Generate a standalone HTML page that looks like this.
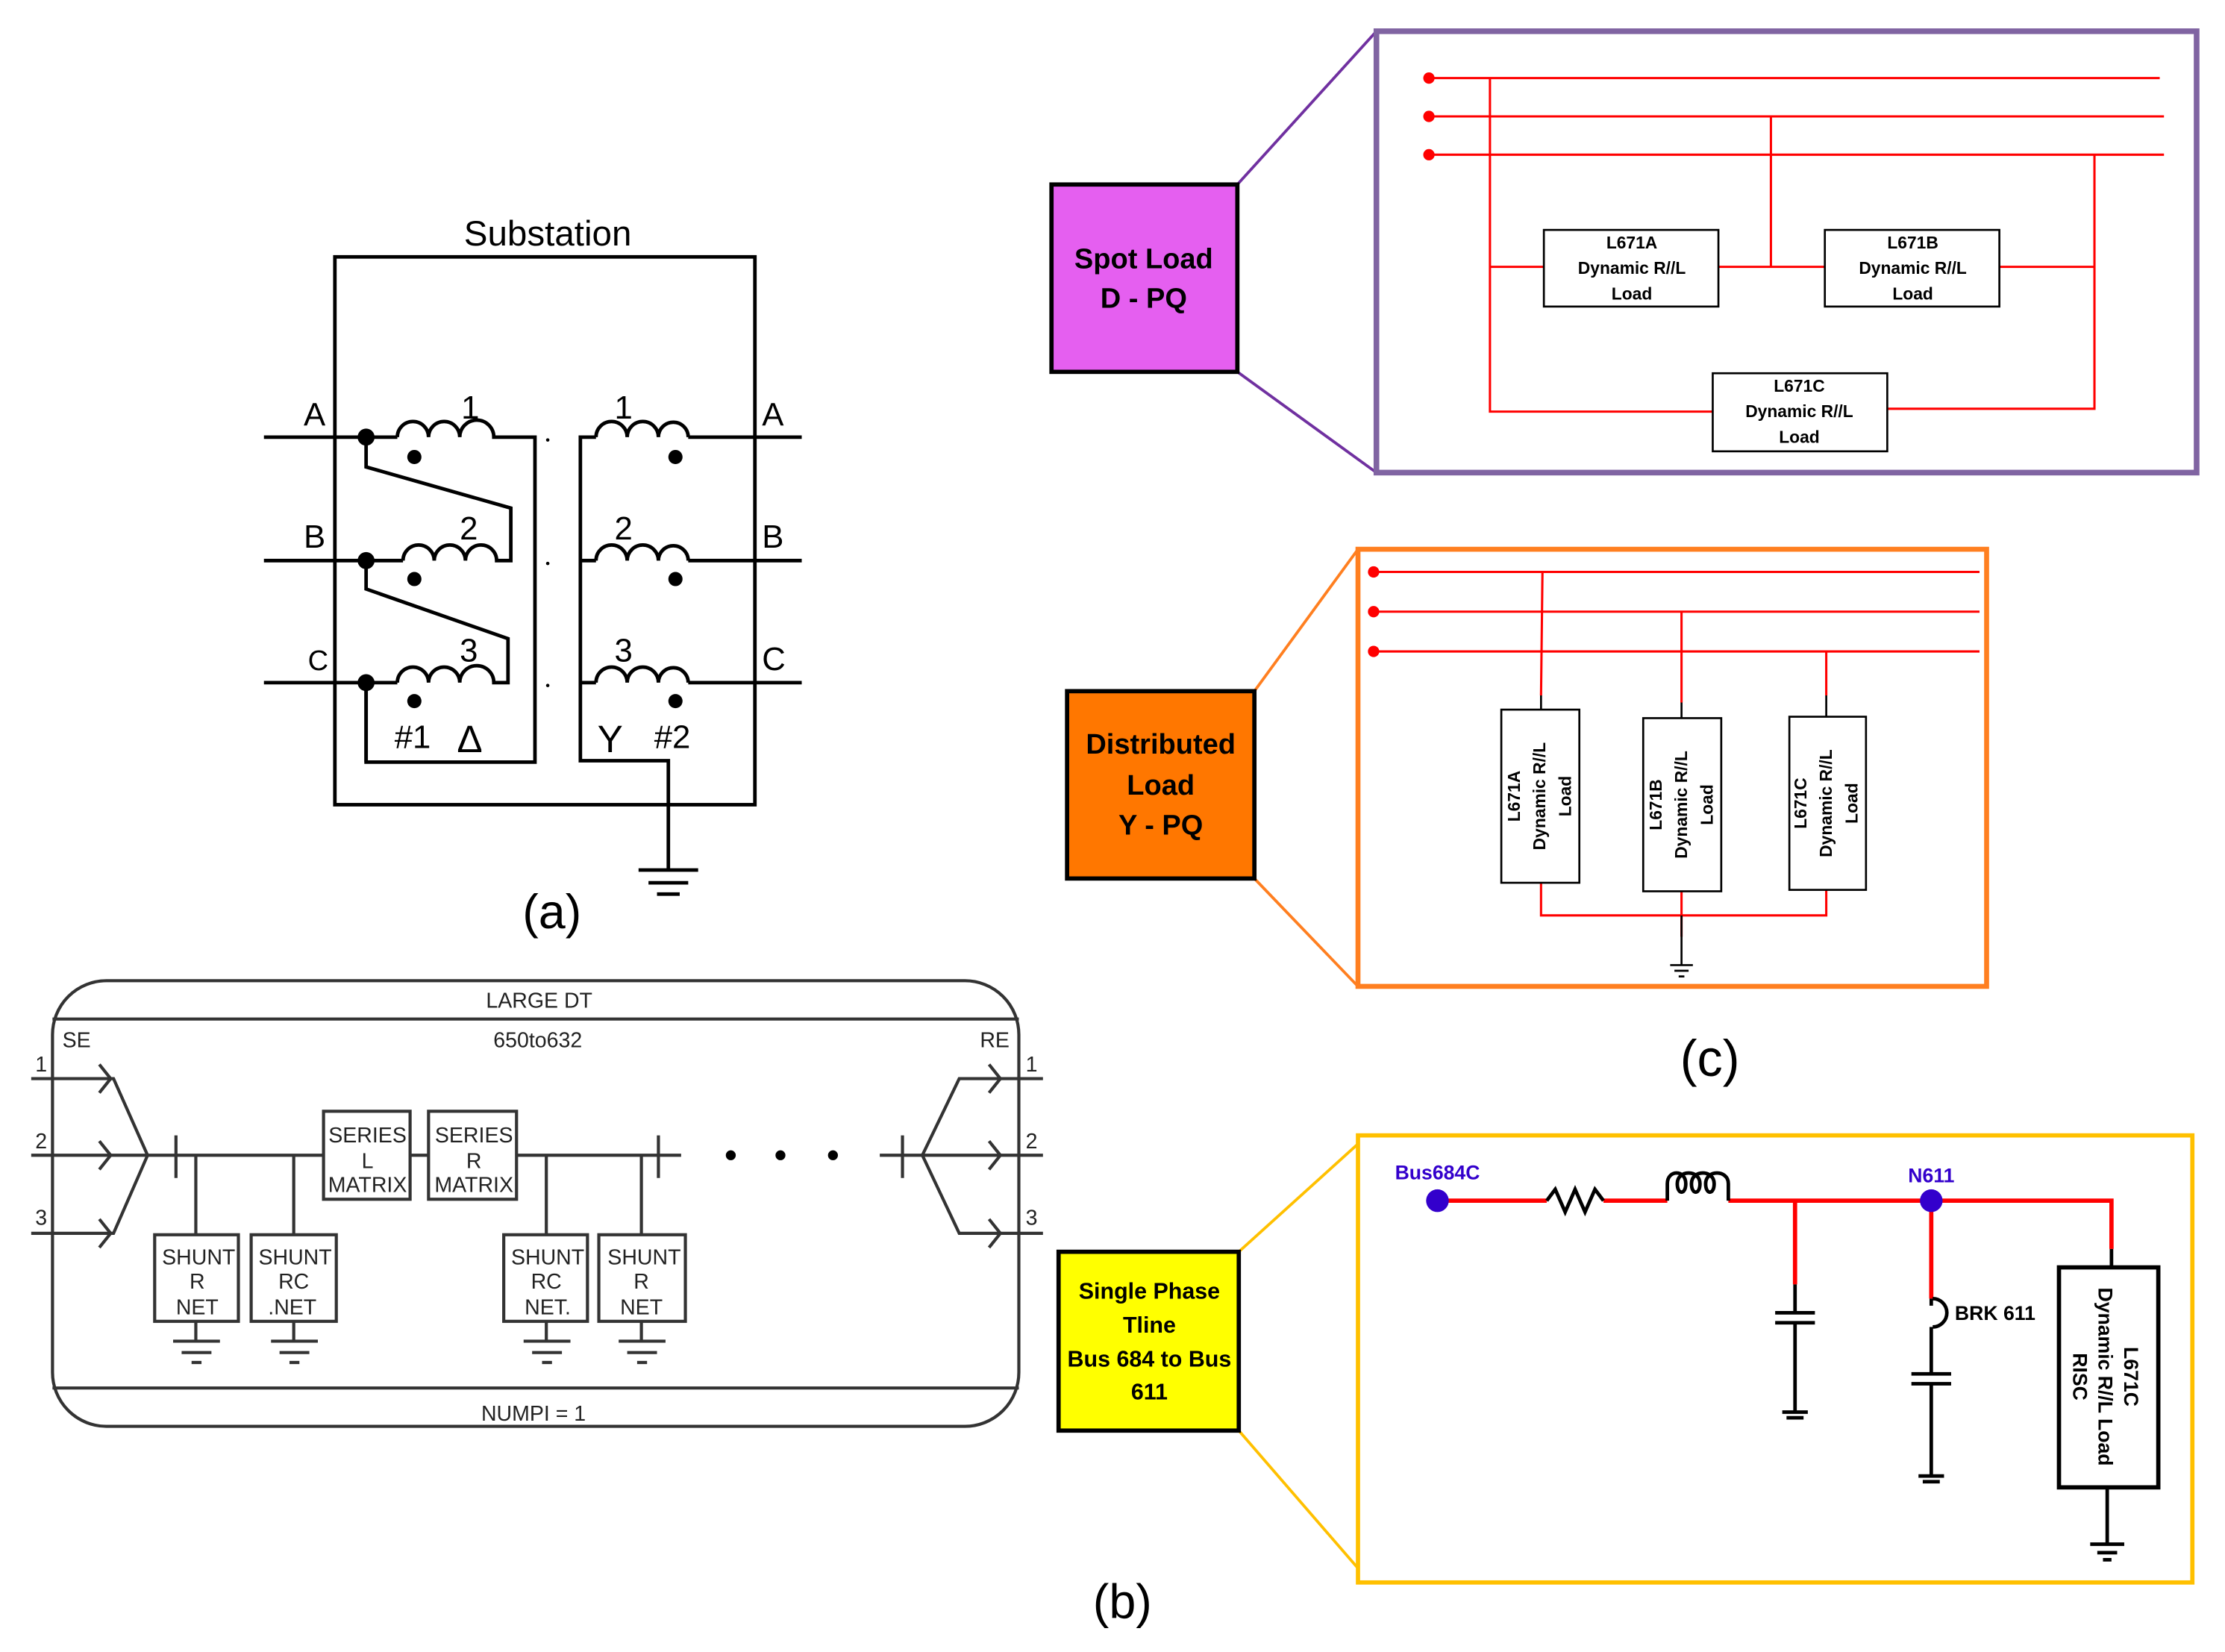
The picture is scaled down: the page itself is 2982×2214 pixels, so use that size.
<!DOCTYPE html>
<html><head><style>html,body{margin:0;padding:0;background:#fff}svg{display:block}</style></head>
<body>
<svg width="2982" height="2214" viewBox="0 0 1568 1164" preserveAspectRatio="none" xmlns="http://www.w3.org/2000/svg" font-family="Liberation Sans, Arial, sans-serif">
<!-- (a) -->
<g stroke="#000" stroke-width="2.5" fill="none">
<rect x="236" y="181" width="296" height="386"/>
<line x1="186" y1="308" x2="258" y2="308"/><line x1="186" y1="395" x2="258" y2="395"/><line x1="186" y1="481" x2="258" y2="481"/>
<line x1="258" y1="308" x2="280" y2="308"/><line x1="258" y1="395" x2="284" y2="395"/><line x1="258" y1="481" x2="280" y2="481"/>
<path d="M280,308 a11,11 0 0 1 22,0 a11,11 0 0 1 22,0 a12,12 0 0 1 24,0 L377,308 L377,537 L258,537 L258,481"/>
<path d="M284,395 a11,11 0 0 1 22,0 a11,11 0 0 1 22,0 a11,11 0 0 1 22,0 L360,395 L360,358 L258,329 L258,308"/>
<path d="M280,481 a11,11 0 0 1 22,0 a11,11 0 0 1 22,0 a12,12 0 0 1 24,0 L358,481 L358,450 L258,415 L258,395"/>
<line x1="258" y1="481" x2="258" y2="537"/>
<path d="M485,308 L565,308 M485,395 L565,395 M485,481 L565,481"/>
<path d="M420,308 a11,11 0 0 1 22,0 a11,11 0 0 1 22,0 a10.5,10.5 0 0 1 21,0"/>
<path d="M420,395 a11,11 0 0 1 22,0 a11,11 0 0 1 22,0 a10.5,10.5 0 0 1 21,0"/>
<path d="M420,481 a11,11 0 0 1 22,0 a11,11 0 0 1 22,0 a10.5,10.5 0 0 1 21,0"/>
<path d="M420,308 L409,308 L409,536 L471,536 L471,613 M409,395 L420,395 M409,481 L420,481"/>
<path d="M450,613 L492,613 M457,622 L485,622 M463,630 L479,630"/>
</g>
<g fill="#000">
<circle cx="258" cy="308" r="6"/><circle cx="258" cy="395" r="6"/><circle cx="258" cy="481" r="6"/>
<circle cx="292" cy="322" r="5"/><circle cx="292" cy="408" r="5"/><circle cx="292" cy="494" r="5"/>
<circle cx="476" cy="322" r="5"/><circle cx="476" cy="408" r="5"/><circle cx="476" cy="494" r="5"/>
<circle cx="386" cy="310" r="1.2"/><circle cx="386" cy="397" r="1.2"/><circle cx="386" cy="483" r="1.2"/>
</g>
<g font-size="23" fill="#000">
<text x="386" y="173" text-anchor="middle" font-size="25">Substation</text>
<text x="214" y="300">A</text><text x="214" y="386">B</text><text x="217" y="472" font-size="20">C</text>
<text x="537" y="300">A</text><text x="537" y="386">B</text><text x="537" y="472">C</text>
<text x="325" y="295">1</text><text x="324" y="380">2</text><text x="324" y="466">3</text>
<text x="433" y="295">1</text><text x="433" y="380">2</text><text x="433" y="466">3</text>
<text x="278" y="527">#1</text><text x="322" y="530" font-size="27">Δ</text>
<text x="421" y="530" font-size="27">Y</text><text x="461" y="527">#2</text>
<text x="389" y="654" text-anchor="middle" font-size="34">(a)</text>
</g>
<!-- (b) -->
<g stroke="#333" stroke-width="2.2" fill="none">
<rect x="37" y="691" width="681" height="314" rx="38"/>
<line x1="37" y1="718" x2="718" y2="718"/><line x1="37" y1="978" x2="718" y2="978"/>
<path d="M22,760 L80,760 L104,814 L80,869 L22,869 M22,814 L104,814 L480,814"/>
<path d="M70,750 L78,760 L70,770 M70,804 L78,814 L70,824 M70,859 L78,869 L70,879"/>
<path d="M124,800 L124,830 M464,800 L464,830 M636,800 L636,830 M620,814 L650,814"/>
<path d="M735,760 L676,760 L650,814 L676,869 L735,869 M650,814 L735,814"/>
<path d="M697,750 L705,760 L697,770 M697,804 L705,814 L697,824 M697,859 L705,869 L697,879"/>
<rect x="228" y="783" width="61" height="62" fill="#fff"/><rect x="302" y="783" width="62" height="62" fill="#fff"/>
<rect x="109" y="870" width="59" height="61"/><rect x="177" y="870" width="60" height="61"/>
<rect x="355" y="870" width="59" height="61"/><rect x="422" y="870" width="61" height="61"/>
<path d="M138,814 L138,870 M207,814 L207,870 M385,814 L385,870 M452,814 L452,870"/>
<path d="M138,931 L138,945 M207,931 L207,945 M385,931 L385,945 M452,931 L452,945"/>
<path d="M122,945 L155,945 M128,953 L149,953 M135,960 L142,960 M191,945 L224,945 M197,953 L218,953 M204,960 L211,960 M369,945 L402,945 M375,953 L396,953 M382,960 L389,960 M436,945 L469,945 M442,953 L463,953 M449,960 L456,960"/>
</g>
<g fill="#000"><circle cx="515" cy="814" r="3.5"/><circle cx="550" cy="814" r="3.5"/><circle cx="587" cy="814" r="3.5"/></g>
<g font-size="15" fill="#222" text-anchor="middle">
<text x="380" y="710">LARGE DT</text><text x="379" y="738">650to632</text>
<text x="54" y="738">SE</text><text x="701" y="738">RE</text>
<text x="29" y="755">1</text><text x="29" y="809">2</text><text x="29" y="863">3</text>
<text x="727" y="755">1</text><text x="727" y="809">2</text><text x="727" y="863">3</text>
<text x="259" y="805">SERIES</text><text x="259" y="823">L</text><text x="259" y="840">MATRIX</text>
<text x="334" y="805">SERIES</text><text x="334" y="823">R</text><text x="334" y="840">MATRIX</text>
<text x="140" y="891">SHUNT</text><text x="139" y="908">R</text><text x="139" y="926">NET</text>
<text x="208" y="891">SHUNT</text><text x="207" y="908">RC</text><text x="206" y="926">.NET</text>
<text x="386" y="891">SHUNT</text><text x="385" y="908">RC</text><text x="386" y="926">NET.</text>
<text x="454" y="891">SHUNT</text><text x="452" y="908">R</text><text x="452" y="926">NET</text>
<text x="376" y="1001">NUMPI = 1</text>
<text x="791" y="1140" font-size="34" fill="#000">(b)</text>
</g>
<!-- (c) top -->
<g fill="none" stroke-width="2">
<line x1="872" y1="130" x2="970" y2="22" stroke="#7030a0"/><line x1="872" y1="262" x2="970" y2="333" stroke="#7030a0"/>
<rect x="970" y="22" width="578" height="311" stroke="#8064a2" stroke-width="4"/>
<g stroke="#f00" stroke-width="1.6">
<path d="M1007,55 L1522,55 M1007,82 L1525,82 M1007,109 L1525,109"/>
<path d="M1050,55 L1050,290 L1207,290 M1050,188 L1088,188 M1211,188 L1286,188 M1248,82 L1248,188 M1409,188 L1476,188 M1476,109 L1476,288 L1330,288"/>
</g>
<g stroke="#000" stroke-width="1.4"><rect x="1088" y="162" width="123" height="54" fill="#fff"/><rect x="1286" y="162" width="123" height="54" fill="#fff"/><rect x="1207" y="263" width="123" height="55" fill="#fff"/></g>
</g>
<g fill="#f00"><circle cx="1007" cy="55" r="4"/><circle cx="1007" cy="82" r="4"/><circle cx="1007" cy="109" r="4"/></g>
<rect x="741" y="130" width="131" height="132" fill="#e55ff0" stroke="#000" stroke-width="3"/>
<g font-weight="bold" text-anchor="middle" fill="#000">
<text x="806" y="189" font-size="20">Spot Load</text><text x="806" y="217" font-size="20">D - PQ</text>
<g font-size="12"><text x="1150" y="175">L671A</text><text x="1150" y="193">Dynamic R//L</text><text x="1150" y="211">Load</text>
<text x="1348" y="175">L671B</text><text x="1348" y="193">Dynamic R//L</text><text x="1348" y="211">Load</text>
<text x="1268" y="276">L671C</text><text x="1268" y="294">Dynamic R//L</text><text x="1268" y="312">Load</text></g>
</g>
<!-- (c) middle -->
<g fill="none" stroke-width="2">
<line x1="884" y1="487" x2="957" y2="387" stroke="#ff7f20"/><line x1="884" y1="619" x2="957" y2="695" stroke="#ff7f20"/>
<rect x="957" y="387" width="443" height="308" stroke="#ff7f20" stroke-width="3.5"/>
<g stroke="#f00" stroke-width="1.6"><path d="M968,403 L1395,403 M968,431 L1395,431 M968,459 L1395,459 M1087,403 L1086,490 M1185,431 L1185,495 M1287,459 L1287,490 M1086,622 L1086,645 L1287,645 L1287,627 M1185,628 L1185,660"/></g>
<g stroke="#000" stroke-width="1.4"><path d="M1086,490 L1086,500 M1185,495 L1185,506 M1287,490 L1287,505 M1185,645 L1185,680 M1177,680 L1193,680 M1180,684 L1190,684 M1183,688 L1187,688"/>
<rect x="1058" y="500" width="55" height="122" fill="#fff"/><rect x="1158" y="506" width="55" height="122" fill="#fff"/><rect x="1261" y="505" width="54" height="122" fill="#fff"/></g>
</g>
<g fill="#f00"><circle cx="968" cy="403" r="4"/><circle cx="968" cy="431" r="4"/><circle cx="968" cy="459" r="4"/></g>
<rect x="752" y="487" width="132" height="132" fill="#ff7700" stroke="#000" stroke-width="3"/>
<g font-weight="bold" text-anchor="middle" fill="#000">
<text x="818" y="531" font-size="20">Distributed</text><text x="818" y="560" font-size="20">Load</text><text x="818" y="588" font-size="20">Y - PQ</text>
<g font-size="12">
<text transform="translate(1071,561) rotate(-90)">L671A</text><text transform="translate(1089,561) rotate(-90)">Dynamic R//L</text><text transform="translate(1107,561) rotate(-90)">Load</text>
<text transform="translate(1171,567) rotate(-90)">L671B</text><text transform="translate(1189,567) rotate(-90)">Dynamic R//L</text><text transform="translate(1207,567) rotate(-90)">Load</text>
<text transform="translate(1273,566) rotate(-90)">L671C</text><text transform="translate(1291,566) rotate(-90)">Dynamic R//L</text><text transform="translate(1309,566) rotate(-90)">Load</text>
</g>
<text x="1205" y="758" font-size="36" font-weight="normal">(c)</text>
</g>
<!-- (c) bottom -->
<g fill="none">
<line x1="873" y1="882" x2="957" y2="806" stroke="#ffc000" stroke-width="2"/><line x1="873" y1="1008" x2="957" y2="1105" stroke="#ffc000" stroke-width="2"/>
<rect x="957" y="800" width="588" height="315" stroke="#ffc000" stroke-width="3"/>
<g stroke="#f00" stroke-width="3"><path d="M1013,846 L1090,846 M1130,846 L1175,846 M1218,846 L1488,846 L1488,880 M1265,846 L1265,905 M1361,846 L1361,915"/></g>
<g stroke="#000" stroke-width="2.5">
<path d="M1090,846 L1096,838 L1103,854 L1110,838 L1117,854 L1124,838 L1130,846"/>
<path d="M1175,846 L1175,834 C1175,824 1188,824 1188,834 C1188,842 1182,842 1182,834 C1182,824 1198,824 1198,834 C1198,842 1192,842 1192,834 C1192,824 1208,824 1208,834 C1208,842 1202,842 1202,834 C1202,824 1218,824 1218,834 L1218,846"/>
<path d="M1265,905 L1265,925 M1251,925 L1279,925 M1251,932 L1279,932 M1265,932 L1265,995 M1256,995 L1274,995 M1259,999 L1271,999"/>
<path d="M1361,915 L1361,920 M1362,915 A10,10 0 0 1 1362,935 M1361,935 L1361,968 M1347,968 L1375,968 M1347,975 L1375,975 M1361,975 L1361,1040 M1352,1040 L1370,1040 M1355,1044 L1367,1044"/>
<path d="M1488,880 L1488,893 M1485,1048 L1485,1088 M1473,1088 L1497,1088 M1478,1094 L1492,1094 M1482,1099 L1488,1099"/>
<rect x="1451" y="893" width="70" height="155" stroke-width="3"/>
</g>
</g>
<g fill="#3300cc"><circle cx="1013" cy="846" r="8"/><circle cx="1361" cy="846" r="8"/></g>
<rect x="746" y="882" width="127" height="126" fill="#ffff00" stroke="#000" stroke-width="3"/>
<g font-weight="bold" fill="#000" text-anchor="middle">
<text x="810" y="915" font-size="16">Single Phase</text><text x="810" y="939" font-size="16">Tline</text><text x="810" y="963" font-size="16">Bus 684 to Bus</text><text x="810" y="986" font-size="16">611</text>
<text x="1013" y="831" font-size="14" fill="#3300cc">Bus684C</text><text x="1361" y="833" font-size="14" fill="#3300cc">N611</text>
<text x="1406" y="930" font-size="14">BRK 611</text>
<g font-size="14"><text transform="translate(1497,970) rotate(90)">L671C</text><text transform="translate(1479,970) rotate(90)">Dynamic R//L Load</text><text transform="translate(1461,970) rotate(90)">RISC</text></g>
</g>
</svg>
</body></html>
